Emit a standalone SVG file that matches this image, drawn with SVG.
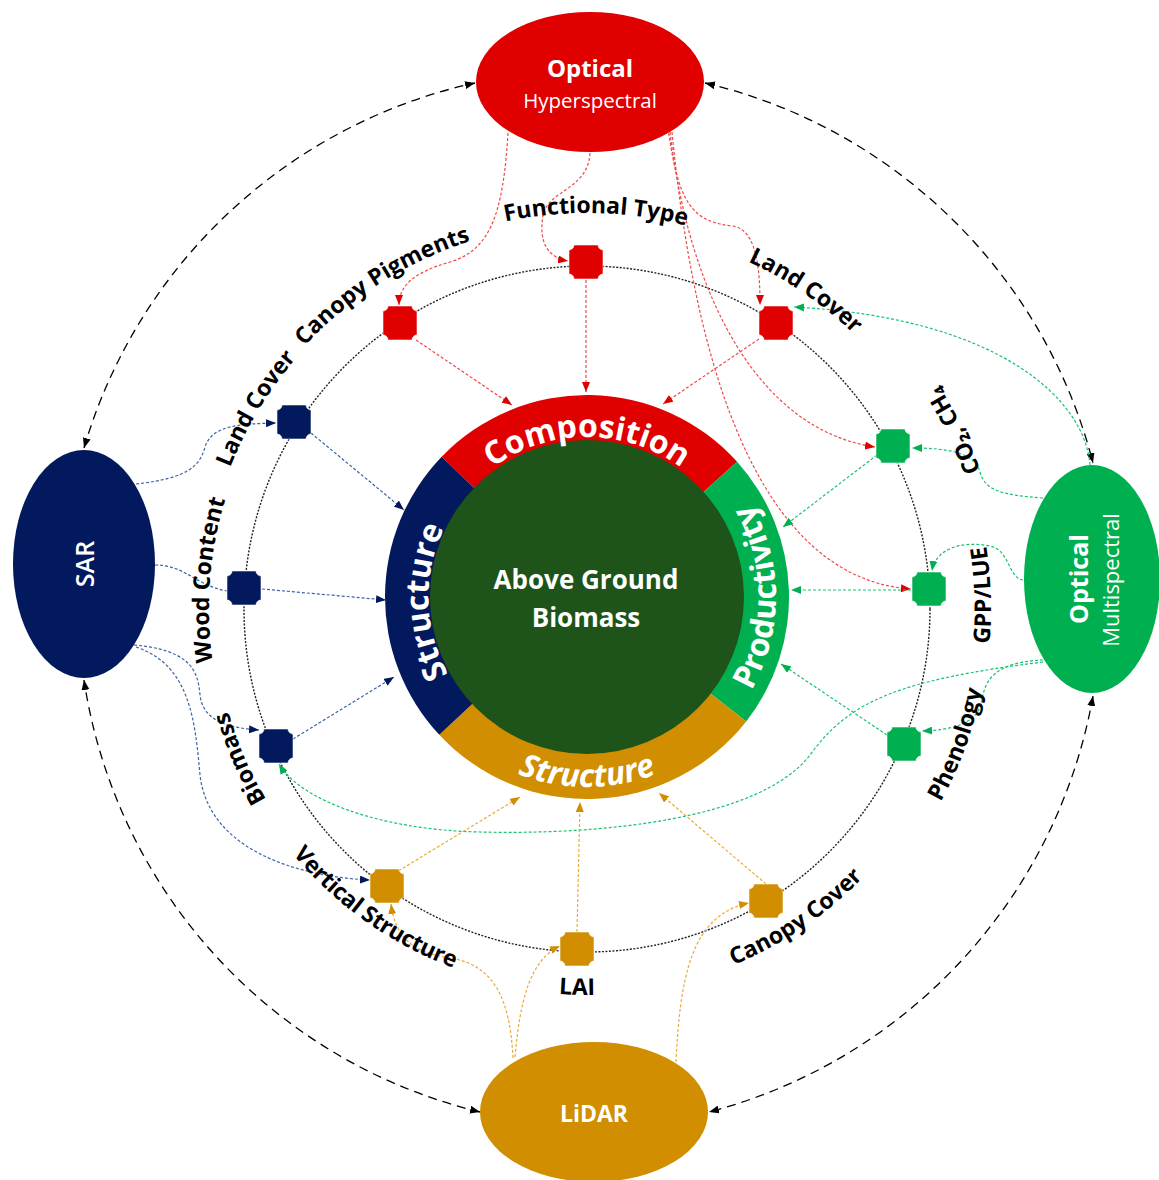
<svg xmlns="http://www.w3.org/2000/svg" xmlns:xlink="http://www.w3.org/1999/xlink" width="1159" height="1180" viewBox="0 0 1159 1180">
<style>
.lbl{font-family:"Open Sans","Liberation Sans","DejaVu Sans",sans-serif;font-weight:700;font-size:23px;fill:#000}
.ring{font-family:"Open Sans","Liberation Sans",sans-serif;font-weight:700;font-size:32px;fill:#fff}
.big{font-family:"Open Sans","Liberation Sans",sans-serif;fill:#fff}
.blk{fill:none;stroke:#000;stroke-width:1.3;stroke-dasharray:9 6}
.dr{fill:none;stroke:#F04848;stroke-width:1.2;stroke-dasharray:3 2}
.db{fill:none;stroke:#3C62A8;stroke-width:1.2;stroke-dasharray:3 2}
.dg{fill:none;stroke:#14C46E;stroke-width:1.2;stroke-dasharray:3 2}
.dy{fill:none;stroke:#EAAA3A;stroke-width:1.2;stroke-dasharray:3 2}
.sq{stroke:#fff;stroke-width:0.8;stroke-opacity:0.7}
.cr{fill:#E00000}.cb{fill:#03195E}.cg{fill:#00B050}.cy{fill:#D08E00}
</style>
<defs>
<marker id="mk" viewBox="0 0 10 8" refX="10" refY="4" markerWidth="10" markerHeight="8" markerUnits="userSpaceOnUse" orient="auto-start-reverse"><path d="M0,0 L10,4 L0,8 Z" fill="#000"/></marker>
<marker id="mr" viewBox="0 0 10 8" refX="10" refY="4" markerWidth="10" markerHeight="8" markerUnits="userSpaceOnUse" orient="auto"><path d="M0,0 L10,4 L0,8 Z" fill="#E00000"/></marker>
<marker id="mb" viewBox="0 0 10 8" refX="10" refY="4" markerWidth="10" markerHeight="8" markerUnits="userSpaceOnUse" orient="auto"><path d="M0,0 L10,4 L0,8 Z" fill="#03195E"/></marker>
<marker id="mg" viewBox="0 0 10 8" refX="10" refY="4" markerWidth="10" markerHeight="8" markerUnits="userSpaceOnUse" orient="auto"><path d="M0,0 L10,4 L0,8 Z" fill="#00B050"/></marker>
<marker id="my" viewBox="0 0 10 8" refX="10" refY="4" markerWidth="10" markerHeight="8" markerUnits="userSpaceOnUse" orient="auto"><path d="M0,0 L10,4 L0,8 Z" fill="#D08E00"/></marker>
<path id="sq" d="M-12,-17 H12 A5,5 0 0 0 17,-12 V12 A5,5 0 0 0 12,17 H-12 A5,5 0 0 0 -17,12 V-12 A5,5 0 0 0 -12,-17 Z"/>
<path id="pComp" d="M448.44,517 A160,160 0 0 1 725.56,517"/>
<path id="pStrL" d="M511,736 A158,158 0 0 1 503,463"/>
<path id="pProd" d="M681.5,760.68 A189,189 0 0 0 681.5,433.32"/>
<path id="pStrB" d="M422.46,692 A190,190 0 0 0 751.54,692"/>
<path id="tFT" d="M313.4,322.7 A396,396 0 0 1 873.3,335.4"/>
<path id="tCP" d="M210.5,524.2 A386,386 0 0 1 671.8,232.5"/>
<path id="tLCR" d="M517.2,232.4 A383,383 0 0 1 963.6,539.2"/>
<path id="tLCL" d="M214.1,700.6 A384,384 0 0 1 495.4,236.1"/>
<path id="tWC" d="M300,855 A378,378 0 0 1 341,322"/>
<path id="tBio" d="M449.1,955.6 A373,373 0 0 1 240.4,471.1"/>
<path id="tVS" d="M209.5,673.5 A383,383 0 0 0 651.5,986.5"/>
<path id="tLAI" d="M307,874.7 A386,386 0 0 0 852.7,889"/>
<path id="tCC" d="M514.2,987.1 A385,385 0 0 0 965.1,681.8"/>
<path id="tPh" d="M756.7,974.5 A403,403 0 0 0 952.5,439.3"/>
<path id="tGPP" d="M882.5,884.5 A404,404 0 0 0 862.5,313.5"/>
<path id="tCO" d="M981,745.4 A417,417 0 0 0 723.4,215"/>
</defs>
<rect width="1159" height="1180" fill="#fff"/>

<circle id="node-circle" cx="587" cy="609" r="343" fill="none" stroke="#222" stroke-width="1.4" stroke-dasharray="2 1.5"/>

<g id="connectors">
<path class="blk" d="M84,448 A525,525 0 0 1 475,83" marker-start="url(#mk)" marker-end="url(#mk)"/>
<path class="blk" d="M705,83 A525,525 0 0 1 1093,463" marker-start="url(#mk)" marker-end="url(#mk)"/>
<path class="blk" d="M1093,696 A525,525 0 0 1 709,1112" marker-start="url(#mk)" marker-end="url(#mk)"/>
<path class="blk" d="M480,1112 A525,525 0 0 1 84,680" marker-start="url(#mk)" marker-end="url(#mk)"/>

<path class="dr" d="M508,133 C503,215 490,250 450,262 C415,272 399,285 399,305" marker-end="url(#mr)"/>
<path class="dr" d="M590,153 C588,190 548,190 543,215 C538,245 550,258 568,261" marker-end="url(#mr)"/>
<path class="dr" d="M668,128 C678,200 690,222 733,226 C757,230 760,270 760,305" marker-end="url(#mr)"/>
<path class="dr" d="M670,132 C690,300 760,430 875,447" marker-end="url(#mr)"/>
<path class="dr" d="M672,132 C700,420 780,580 911,589" marker-end="url(#mr)"/>
<path class="dr" d="M416,340 L512,405" marker-end="url(#mr)"/>
<path class="dr" d="M586,280 L586,392" marker-end="url(#mr)"/>
<path class="dr" d="M759,339 L663,404" marker-end="url(#mr)"/>

<path class="db" d="M136,484 C190,478 200,465 205,447 C212,425 240,424 276,423" marker-end="url(#mb)"/>
<path class="db" d="M155,565 C185,565 195,585 227,591"/>
<path class="db" d="M134,645 C190,650 198,670 200,695 C203,722 230,728 259,730" marker-end="url(#mb)"/>
<path class="db" d="M136,647 C190,665 195,720 200,775 C210,860 320,878 370,880" marker-end="url(#mb)"/>
<path class="db" d="M311,433 L404,510" marker-end="url(#mb)"/>
<path class="db" d="M262,589 L386,600" marker-end="url(#mb)"/>
<path class="db" d="M293,739 L394,677" marker-end="url(#mb)"/>

<path class="dg" d="M1090,465 C1085,400 1000,318 794,307" marker-end="url(#mg)"/>
<path class="dg" d="M1043,498 C1000,495 985,490 980,472 C975,452 945,448 912,448" marker-end="url(#mg)"/>
<path class="dg" d="M1023,580 C1008,578 1010,550 990,546 C960,540 935,550 932,571" marker-end="url(#mg)"/>
<path class="dg" d="M1043,660 C995,662 985,680 982,700 C978,725 950,730 922,731" marker-end="url(#mg)"/>
<path class="dg" d="M1043,662 C900,680 850,700 810,755 C760,820 600,835 480,832 C380,830 300,800 279,764" marker-end="url(#mg)"/>
<path class="dg" d="M877,455 L783,527" marker-end="url(#mg)"/>
<path class="dg" d="M911,590 L791,590" marker-end="url(#mg)"/>
<path class="dg" d="M887,735 L781,664" marker-end="url(#mg)"/>

<path class="dy" d="M390,876 L520,797" marker-end="url(#my)"/>
<path class="dy" d="M577,932 L580,802" marker-end="url(#my)"/>
<path class="dy" d="M766,884 L659,793" marker-end="url(#my)"/>
<path class="dy" d="M513,1058 C510,1000 495,965 450,958 C410,952 395,935 391,904" marker-end="url(#my)"/>
<path class="dy" d="M515,1057 C520,1000 530,960 560,946" marker-end="url(#my)"/>
<path class="dy" d="M676,1062 C680,980 690,915 749,903" marker-end="url(#my)"/>
</g>

<g id="seg-composition"><path class="cr" d="M587,597 L441.7,456.7 A202,202 0 0 1 737.1,461.8 Z"/></g>
<g id="seg-productivity"><path class="cg" d="M587,597 L737.1,461.8 A202,202 0 0 1 746.2,721.4 Z"/></g>
<g id="seg-structure-bottom"><path class="cy" d="M587,597 L746.2,721.4 A202,202 0 0 1 439.3,734.8 Z"/></g>
<g id="seg-structure-left"><path class="cb" d="M587,597 L439.3,734.8 A202,202 0 0 1 441.7,456.7 Z"/></g>
<g id="agb">
<circle cx="587" cy="597" r="157" fill="#1E531A"/>
<text class="big" x="586" y="589" text-anchor="middle" font-size="26" font-weight="700">Above Ground</text>
<text class="big" x="586" y="627" text-anchor="middle" font-size="26" font-weight="700">Biomass</text>
</g>
<g id="ring-labels">
<text class="ring"><textPath href="#pComp" startOffset="50%" text-anchor="middle">Composition</textPath></text>
<text class="ring" font-size="31"><textPath href="#pStrL" startOffset="50%" text-anchor="middle">Structure</textPath></text>
<text class="ring"><textPath href="#pProd" startOffset="50%" text-anchor="middle">Productivity</textPath></text>
<text class="ring" font-style="italic"><textPath href="#pStrB" startOffset="50%" text-anchor="middle">Structure</textPath></text>
</g>

<g id="node-optical-hyperspectral">
<ellipse cx="590" cy="82" rx="114" ry="70" class="cr"/>
<text class="big" x="590" y="77" text-anchor="middle" font-size="24" font-weight="700">Optical</text>
<text class="big" x="590" y="108" text-anchor="middle" font-size="20.5">Hyperspectral</text>
</g>
<g id="node-sar">
<ellipse cx="84" cy="564" rx="71" ry="114" class="cb"/>
<text class="big" transform="translate(94,564) rotate(-90)" text-anchor="middle" font-size="25" font-weight="600">SAR</text>
</g>
<g id="node-optical-multispectral">
<ellipse cx="1092" cy="579" rx="68" ry="114" class="cg"/>
<text class="big" transform="translate(1088,579) rotate(-90)" text-anchor="middle" font-size="25" font-weight="700">Optical</text>
<text class="big" transform="translate(1119,580) rotate(-90)" text-anchor="middle" font-size="22">Multispectral</text>
</g>
<g id="node-lidar">
<ellipse cx="594" cy="1112" rx="114" ry="70" class="cy"/>
<text class="big" x="594" y="1122" text-anchor="middle" font-size="23" font-weight="700">LiDAR</text>
</g>

<g id="node-functional-type"><use href="#sq" x="586" y="262" class="cr sq"/><text class="lbl"><textPath href="#tFT" startOffset="50%" text-anchor="middle">Functional Type</textPath></text></g>
<g id="node-canopy-pigments"><use href="#sq" x="400" y="323" class="cr sq"/><text class="lbl"><textPath href="#tCP" startOffset="50%" text-anchor="middle">Canopy Pigments</textPath></text></g>
<g id="node-land-cover-optical"><use href="#sq" x="776" y="323" class="cr sq"/><text class="lbl"><textPath href="#tLCR" startOffset="50%" text-anchor="middle">Land Cover</textPath></text></g>
<g id="node-co2-ch4"><use href="#sq" x="893" y="446" class="cg sq"/><text class="lbl"><textPath href="#tCO" startOffset="50%" text-anchor="middle">CO₂, CH₄</textPath></text></g>
<g id="node-gpp-lue"><use href="#sq" x="929" y="589" class="cg sq"/><text class="lbl"><textPath href="#tGPP" startOffset="50%" text-anchor="middle">GPP/LUE</textPath></text></g>
<g id="node-phenology"><use href="#sq" x="904" y="744" class="cg sq"/><text class="lbl"><textPath href="#tPh" startOffset="50%" text-anchor="middle">Phenology</textPath></text></g>
<g id="node-land-cover-sar"><use href="#sq" x="294" y="422" class="cb sq"/><text class="lbl"><textPath href="#tLCL" startOffset="50%" text-anchor="middle">Land Cover</textPath></text></g>
<g id="node-wood-content"><use href="#sq" x="244" y="588" class="cb sq"/><text class="lbl"><textPath href="#tWC" startOffset="50%" text-anchor="middle">Wood Content</textPath></text></g>
<g id="node-biomass"><use href="#sq" x="276" y="746" class="cb sq"/><text class="lbl"><textPath href="#tBio" startOffset="50%" text-anchor="middle">Biomass</textPath></text></g>
<g id="node-vertical-structure"><use href="#sq" x="387" y="886" class="cy sq"/><text class="lbl" font-size="21" letter-spacing="-0.3"><textPath href="#tVS" startOffset="50%" text-anchor="middle">Vertical Structure</textPath></text></g>
<g id="node-lai"><use href="#sq" x="577" y="949" class="cy sq"/><text class="lbl"><textPath href="#tLAI" startOffset="50%" text-anchor="middle">LAI</textPath></text></g>
<g id="node-canopy-cover"><use href="#sq" x="766" y="901" class="cy sq"/><text class="lbl"><textPath href="#tCC" startOffset="50%" text-anchor="middle">Canopy Cover</textPath></text></g>
</svg>
